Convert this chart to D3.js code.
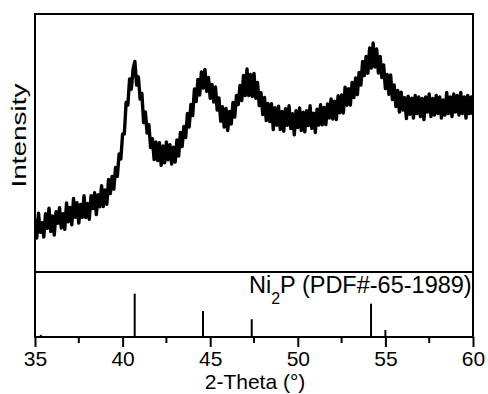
<!DOCTYPE html>
<html>
<head>
<meta charset="utf-8">
<script src="https://cdn.jsdelivr.net/npm/d3@7"></script>
<style>
  html, body { margin: 0; padding: 0; background: #fff; }
  svg { display: block; font-family: "Liberation Sans", Arial, sans-serif; }
</style>
</head>
<body>
<svg id="chart" width="488" height="394"></svg>
<script>
// ---- data ----
const thetaStart = 35.0;
const thetaStep = 0.1;
const intensity = [
  265,170,294,199,247,175,291,218,319,202,
  280,185,301,244,322,220,292,213,345,251,
  323,236,368,274,346,245,338,273,382,272,
  343,264,381,317,396,287,386,326,432,327,
  410,339,463,392,478,414,523,478,590,565,
  690,690,848,835,965,914,1015,1053,935,976,
  865,893,747,800,695,737,622,667,562,650,
  557,647,533,630,546,650,561,637,540,624,
  550,660,580,698,627,728,672,793,725,838,
  782,915,852,963,885,1000,920,1013,903,973,
  869,938,850,925,810,870,754,826,725,818,
  707,803,740,848,775,883,837,933,857,983,
  882,1015,882,988,877,993,869,948,832,896,
  787,873,757,843,752,841,712,821,734,829,
  712,803,704,817,733,831,717,792,686,806,
  722,820,707,799,701,807,732,831,718,794,
  697,814,735,837,736,823,737,840,770,865,
  765,854,762,881,796,885,795,924,834,917,
  835,948,872,970,887,998,935,1053,982,1078,
  994,1120,1020,1145,1025,1115,995,1078,972,1035,
  917,988,888,985,862,935,827,908,800,899,
  810,871,767,879,788,869,770,883,792,875,
  777,868,762,875,800,890,777,868,785,883,
  792,875,770,860,785,898,792,875,777,890,
  800,883,785,898,792,875,770,883,792,875,
  785
];
// Ni2P reference pattern (PDF#65-1989)
const refPositions = [35.33, 40.69, 44.59, 47.37, 54.18, 55.0];
const refIntensities = [5, 100, 60, 41, 77, 16];
const xTicks = [35, 40, 45, 50, 55, 60];
const xMinorTicks = [37.5, 42.5, 47.5, 52.5, 57.5];
const refLabel = "PDF#-65-1989";

// ---- layout ----
const mLeft = 35, mRight = 473, mTop = 14, mMid = 272, mBottom = 337;
const svg = d3.select("#chart");

const x = d3.scaleLinear().domain([35, 60]).range([mLeft, mRight]);
const y = d3.scaleLinear().domain([0, 1290]).range([mMid, mTop]);
const yRef = d3.scaleLinear().domain([0, 150]).range([mBottom, mMid]);

const pts = intensity.map((v, i) => [thetaStart + i * thetaStep, v]);

svg.append("defs").append("clipPath").attr("id", "clip")
  .append("rect").attr("x", mLeft).attr("y", mTop).attr("width", mRight - mLeft).attr("height", mMid - mTop);

// XRD curve
svg.append("path")
  .datum(pts)
  .attr("clip-path", "url(#clip)")
  .attr("fill", "none")
  .attr("stroke", "#000")
  .attr("stroke-width", 3.4)
  .attr("stroke-linejoin", "round")
  .attr("d", d3.line().x(d => x(d[0])).y(d => y(d[1])));

// reference sticks
svg.append("g").selectAll("line")
  .data(refPositions.map((p, i) => [p, refIntensities[i]]))
  .join("line")
  .attr("x1", d => x(d[0])).attr("x2", d => x(d[0]))
  .attr("y1", yRef(0)).attr("y2", d => yRef(d[1]))
  .attr("stroke", "#000").attr("stroke-width", 2);

// reference label
const lbl = svg.append("text")
  .attr("x", 249).attr("y", 292.5)
  .attr("font-size", 23.5).attr("fill", "#000");
lbl.append("tspan").text("Ni");
lbl.append("tspan").attr("font-size", 16).attr("dy", 11).text("2");
lbl.append("tspan").attr("dy", -11).text("P (" + refLabel + ")");

// frame
const frame = svg.append("g").attr("stroke", "#000").attr("stroke-width", 2).attr("fill", "none");
frame.append("rect").attr("x", mLeft).attr("y", mTop).attr("width", mRight - mLeft).attr("height", mBottom - mTop);
frame.append("line").attr("x1", mLeft).attr("x2", mRight).attr("y1", mMid).attr("y2", mMid);

// bottom axis
const axis = d3.axisBottom(x).tickValues(xTicks).tickSize(10).tickPadding(6).tickFormat(d3.format("d"));
const gx = svg.append("g").attr("transform", `translate(0,${mBottom})`).call(axis);
gx.select(".domain").remove();
gx.selectAll(".tick line").attr("stroke", "#000").attr("stroke-width", 2);
gx.selectAll(".tick text")
  .attr("font-size", 21).attr("font-family", "Liberation Sans, Arial, sans-serif")
  .attr("fill", "#000").attr("dy", null).attr("y", 29);

svg.append("g").selectAll("line").data(xMinorTicks).join("line")
  .attr("x1", d => x(d)).attr("x2", d => x(d))
  .attr("y1", mBottom).attr("y2", mBottom + 6)
  .attr("stroke", "#000").attr("stroke-width", 2);

// axis titles
svg.append("text")
  .attr("x", (mLeft + mRight) / 2 + 1).attr("y", 389.4)
  .attr("text-anchor", "middle").attr("font-size", 21).attr("fill", "#000")
  .text("2-Theta (°)");

svg.append("text")
  .attr("transform", "translate(26,135.5) rotate(-90)")
  .attr("text-anchor", "middle").attr("font-size", 21).attr("fill", "#000")
  .attr("textLength", 104).attr("lengthAdjust", "spacingAndGlyphs")
  .text("Intensity");
</script>
</body>
</html>
